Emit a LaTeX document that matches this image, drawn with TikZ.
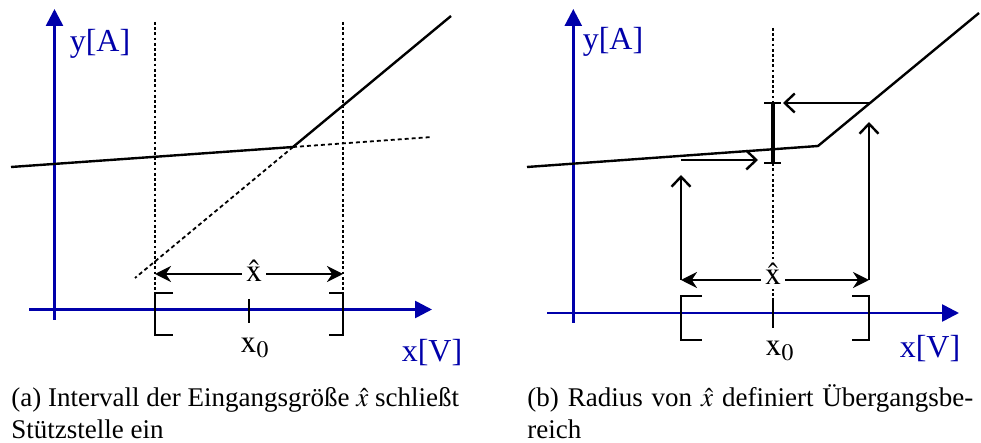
\documentclass[tikz,border=0pt]{standalone}
\usepackage{mathptmx}
\usepackage{fontspec}
\setmainfont{Liberation Serif}
\usepackage{tikz}
\usetikzlibrary{arrows.meta}
\definecolor{axisblue}{RGB}{0,0,170}

\begin{document}
\begin{tikzpicture}[x=0.5pt, y=-0.5pt,
  every node/.style={font=\fontsize{16}{18}\selectfont, inner sep=1pt},
  axis/.style={draw=axisblue, line width=1.3pt, -{Triangle[width=8.5pt,length=8.5pt]}},
  axislabel/.style={text=axisblue, anchor=base},
  curve/.style={line width=1.2pt, line join=round},
  guide/.style={line width=0.8pt, dash pattern=on 1.4pt off 1.2pt},
  extension/.style={line width=0.9pt, dash pattern=on 2pt off 1.5pt},
  dimline/.style={line width=1.2pt, {Stealth[length=8pt,width=8pt]}-{Stealth[length=8pt,width=8pt]}},
  proj/.style={line width=1.2pt, -{Straight Barb[length=5pt,width=9.5pt]}},
  bracket/.style={line width=1.2pt},
  dimlabel/.style={fill=white, anchor=base, inner sep=2pt},
  caption/.style={font=\fontsize{13.5}{16}\selectfont, anchor=base west, inner sep=0pt}]
\useasboundingbox (0,0) rectangle (981,443);

% (a) interval around the support point
\coordinate (ya0) at (54.5,320);
\coordinate (ya1) at (54.5,9);
\coordinate (xa0) at (29,309.5);
\coordinate (xa1) at (432,309.5);
\coordinate (ca0) at (11,167);
\coordinate (ka) at (293,147);
\coordinate (ca1) at (451,16);
\coordinate (ea0) at (432,137);
\coordinate (ea1) at (135,278);
\coordinate (ga0) at (155,22);
\coordinate (ga1) at (155,293);
\coordinate (gb0) at (343,22);
\coordinate (gb1) at (343,293);
\coordinate (da0) at (155,274);
\coordinate (da1) at (343,274);
\coordinate (ta0) at (249,299);
\coordinate (ta1) at (249,323);

\draw[guide] (ga0) -- (ga1);
\draw[guide] (gb0) -- (gb1);
\draw[extension] (ka) -- (ea0);
\draw[extension] (ka) -- (ea1);
\draw[axis] (ya0) -- (ya1);
\draw[axis] (xa0) -- (xa1);
\draw[curve] (ca0) -- (ka) -- (ca1);
\draw[bracket] (173,293) -- (155,293) -- (155,335) -- (173,335);
\draw[bracket] (329,293) -- (343,293) -- (343,335) -- (329,335);
\draw[bracket] (ta0) -- (ta1);
\draw[dimline] (da0) -- (da1);
\node[dimlabel] (xhata) at (254,282) {$\hat{\mathrm{x}}$};
\node[anchor=base] (xnulla) at (255,353) {$\mathrm{x}_0$};
\node[axislabel] (ylabela) at (100,52) {y[A]};
\node[axislabel] (xlabela) at (432,362) {x[V]};

% (b) radius defines the transition region
\coordinate (yb0) at (573.3,323);
\coordinate (yb1) at (573.3,9);
\coordinate (xb0) at (547,313);
\coordinate (xb1) at (959,313);
\coordinate (cb0) at (527,167);
\coordinate (kb) at (818,146);
\coordinate (cb1) at (979,13);
\coordinate (gc0) at (772.7,28);
\coordinate (gc1) at (772.7,298);
\coordinate (tb1) at (772.7,328);
\coordinate (db0) at (681,280);
\coordinate (db1) at (869,280);
\coordinate (pa1) at (681,175);
\coordinate (pb1) at (869,122);
\coordinate (ha0) at (869.5,103);
\coordinate (ha1) at (783,103);
\coordinate (hb0) at (681,160);
\coordinate (hb1) at (758,160);
\coordinate (eb0) at (772.7,103);
\coordinate (eb1) at (772.7,163);

\draw[guide] (gc0) -- (gc1);
\draw[axis] (yb0) -- (yb1);
\draw[axis] (xb0) -- (xb1);
\draw[curve] (cb0) -- (kb) -- (cb1);
\draw[bracket] (702,296) -- (681,296) -- (681,340) -- (702,340);
\draw[bracket] (852,296) -- (869,296) -- (869,340) -- (852,340);
\draw[bracket] (gc1) -- (tb1);
\draw[dimline] (db0) -- (db1);
\foreach \s/\t in {db0/pa1,db1/pb1,ha0/ha1,hb0/hb1}
  \draw[proj] (\s) -- (\t);
\draw[line width=2pt] (eb0) -- (eb1);
\draw[line width=1.2pt] (764,103) -- (781,103) (764,163) -- (781,163);
\node[dimlabel] (xhatb) at (773,285) {$\hat{\mathrm{x}}$};
\node[anchor=base] (xnullb) at (780,356) {$\mathrm{x}_0$};
\node[axislabel] (ylabelb) at (613,50) {y[A]};
\node[axislabel] (xlabelb) at (930,358) {x[V]};

% captions
\node[caption] (capa1) at (11,407) {(a) Intervall der Eingangsgröße $\hat{x}$ schließt};
\node[caption] (capa2) at (11,438) {Stützstelle ein};
\node[caption] (capb1) at (527,407) {\makebox[223pt][s]{(b) Radius von $\hat{x}$ definiert Übergangsbe-}};
\node[caption] (capb2) at (527,438) {reich};
\end{tikzpicture}
\end{document}
